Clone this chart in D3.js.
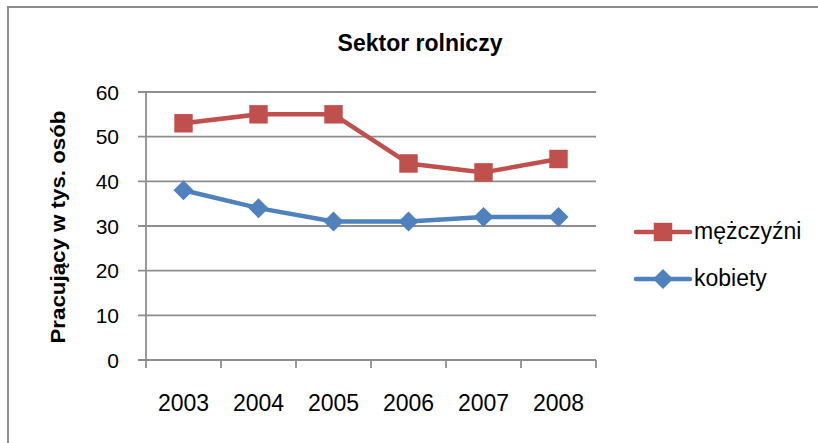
<html>
<head>
<meta charset="utf-8">
<script src="https://d3js.org/d3.v7.min.js"></script>
<style>
  body { margin: 0; background: #fff; }
  svg text { font-family: "Liberation Sans", Arial, sans-serif; fill: #000; }
</style>
</head>
<body>
<script>
// dane wykresu
var years = ["2003", "2004", "2005", "2006", "2007", "2008"];
var mezczyzni = [53, 55, 55, 44, 42, 45];
var kobiety = [38, 34, 31, 31, 32, 32];
var yTicks = [0, 10, 20, 30, 40, 50, 60];
var seriesNames = ["mężczyźni", "kobiety"];
var colors = ["#C0504D", "#4F81BD"];

var width = 818, height = 443;
var svg = d3.select("body").append("svg")
  .attr("width", width).attr("height", height);

// ramka wykresu (wychodzi poza prawy i dolny brzeg)
svg.append("rect")
  .attr("x", 8).attr("y", 7)
  .attr("width", 840).attr("height", 470)
  .attr("fill", "none").attr("stroke", "#8c8c8c").attr("stroke-width", 2);

var x = d3.scaleBand().domain(years).range([146, 596]).padding(0);
var y = d3.scaleLinear().domain([0, 60]).range([360, 92]);

// linie siatki
svg.selectAll("line.grid").data(yTicks).enter().append("line")
  .attr("class", "grid")
  .attr("x1", 138).attr("x2", 596)
  .attr("y1", function(d) { return y(d); })
  .attr("y2", function(d) { return y(d); })
  .attr("stroke", "#8e8e8e").attr("stroke-width", 1.8);

// os Y
svg.append("line")
  .attr("x1", 146).attr("x2", 146).attr("y1", y(60)).attr("y2", y(0))
  .attr("stroke", "#8e8e8e").attr("stroke-width", 1.8);

svg.selectAll("text.ytick").data(yTicks).enter().append("text")
  .attr("class", "ytick")
  .attr("x", 119)
  .attr("y", function(d) { return y(d) + 7.5; })
  .attr("text-anchor", "end")
  .style("font-size", "21px")
  .text(function(d) { return d; });

// os X: kreski na granicach kategorii
var bounds = years.map(function(d) { return x(d); }).concat([x.range()[1]]);
svg.selectAll("line.xtick").data(bounds).enter().append("line")
  .attr("class", "xtick")
  .attr("x1", function(d) { return d; }).attr("x2", function(d) { return d; })
  .attr("y1", y(0)).attr("y2", y(0) + 8)
  .attr("stroke", "#8e8e8e").attr("stroke-width", 1.8);

svg.selectAll("text.xlab").data(years).enter().append("text")
  .attr("class", "xlab")
  .attr("x", function(d) { return x(d) + x.bandwidth() / 2; })
  .attr("y", 411)
  .attr("text-anchor", "middle")
  .style("font-size", "23px")
  .text(function(d) { return d; });

// tytul
svg.append("text")
  .attr("x", 420).attr("y", 51)
  .attr("text-anchor", "middle")
  .style("font-size", "23px").style("font-weight", "bold")
  .text("Sektor rolniczy");

// opis osi Y
svg.append("text")
  .attr("transform", "translate(65,227) rotate(-90)")
  .attr("text-anchor", "middle")
  .style("font-size", "21px").style("font-weight", "bold")
  .attr("textLength", 233).attr("lengthAdjust", "spacingAndGlyphs")
  .text("Pracujący w tys. osób");

var line = d3.line()
  .x(function(d, i) { return x(years[i]) + x.bandwidth() / 2; })
  .y(function(d) { return y(d); });

var symbols = [d3.symbol().type(d3.symbolSquare).size(340),
               d3.symbol().type(d3.symbolDiamond2).size(255)];
var data = [mezczyzni, kobiety];

// najpierw kobiety, potem mezczyzni
[1, 0].forEach(function(s) {
  svg.append("path")
    .attr("d", line(data[s]))
    .attr("fill", "none")
    .attr("stroke", colors[s]).attr("stroke-width", 4.5)
    .attr("stroke-linejoin", "round");
  svg.selectAll("path.m" + s).data(data[s]).enter().append("path")
    .attr("class", "m" + s)
    .attr("transform", function(d, i) {
      return "translate(" + (x(years[i]) + x.bandwidth() / 2) + "," + y(d) + ")";
    })
    .attr("d", symbols[s])
    .attr("fill", colors[s]);
});

// legenda
var legend = svg.selectAll("g.leg").data(seriesNames).enter().append("g")
  .attr("class", "leg")
  .attr("transform", function(d, i) { return "translate(0," + (232 + i * 47) + ")"; });

legend.append("line")
  .attr("x1", 636).attr("x2", 690).attr("y1", 0).attr("y2", 0)
  .attr("stroke", function(d, i) { return colors[i]; })
  .attr("stroke-width", 4.5).attr("stroke-linecap", "round");

legend.append("path")
  .attr("transform", "translate(663,0)")
  .attr("d", function(d, i) { return symbols[i](); })
  .attr("fill", function(d, i) { return colors[i]; });

legend.append("text")
  .attr("x", 694).attr("y", 7)
  .style("font-size", "23px")
  .text(function(d) { return d; });
</script>
</body>
</html>
